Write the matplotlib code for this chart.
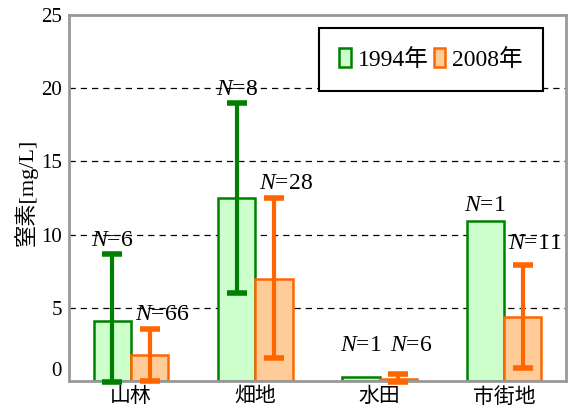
import numpy as np
import matplotlib
matplotlib.use("Agg")
import matplotlib.pyplot as plt

plt.rcParams['font.family'] = ['Liberation Serif', 'Noto Sans CJK JP']
plt.rcParams['font.size'] = 15
plt.rcParams['mathtext.fontset'] = 'custom'
plt.rcParams['mathtext.it'] = 'Liberation Serif:italic'
plt.rcParams['mathtext.rm'] = 'Liberation Serif'

# nitrogen by land use
categories = ['山林', '畑地', '水田', '市街地']
years = ['1994年', '2008年']
mean_1994 = [4.1, 12.5, 0.3, 10.9]
mean_2008 = [1.8, 7.0, 0.15, 4.4]
lo_1994 = [-0.1, 6.0, None, None]
hi_1994 = [8.65, 19.0, None, None]
lo_2008 = [0.0, 1.6, -0.1, 0.9]
hi_2008 = [3.55, 12.5, 0.5, 7.9]
n_1994 = [6, 8, 1, 1]
n_2008 = [66, 28, 6, 11]
# heights where the N= labels sit
ny_1994 = [8.9, 19.2, 1.7, 11.3]
ny_2008 = [3.8, 12.8, 1.7, 8.7]

edge = ['#008000', '#ff6600']
fill = ['#ccffcc', '#ffcc99']

fig = plt.figure(figsize=(5.7, 4.16), dpi=100)
ax = fig.add_axes([69/570, 1-381/416, 497/570, 366/416])

x = np.arange(len(categories))
w = 0.3
series = [(mean_1994, lo_1994, hi_1994, n_1994, ny_1994, -w/2, 0.0),
          (mean_2008, lo_2008, hi_2008, n_2008, ny_2008, w/2, 0.1)]
for k, (m, lo, hi, n, ny, off, toff) in enumerate(series):
    ax.bar(x + off, m, w, color=fill[k], edgecolor=edge[k], linewidth=1.8,
           label=years[k], zorder=2)
    for i in range(len(categories)):
        if lo[i] is not None:
            ax.errorbar(x[i] + off, m[i], yerr=[[m[i] - lo[i]], [hi[i] - m[i]]],
                        fmt='none', ecolor=edge[k], elinewidth=3, capsize=7,
                        capthick=4, zorder=3, clip_on=False)
        ax.text(x[i] + off + toff, ny[i], '$N$=%d' % n[i], ha='center',
                va='bottom', fontsize=17, family='Liberation Serif')

ax.set_xlim(-0.5, 3.5)
ax.set_ylim(0, 25)
ax.set_yticks([0, 5, 10, 15, 20, 25])
ax.set_xticks(x)
ax.set_xticklabels(categories, fontsize=15)
ax.tick_params(length=0, pad=5)
ax.get_yticklabels()[0].set_verticalalignment('bottom')
for yv in [5, 10, 15, 20]:
    ax.axhline(yv, color='black', linestyle=(0, (5, 4)), linewidth=0.9, zorder=1)
for s in ax.spines.values():
    s.set_color('#999999')
    s.set_linewidth(2)
ax.set_ylabel('窒素[mg/L]', fontsize=16)
ax.yaxis.set_label_coords(-0.062, 0.516)

leg = ax.legend(loc='upper left', bbox_to_anchor=(0.503, 0.964), ncol=2,
                fancybox=False, edgecolor='black', framealpha=1,
                handlelength=0.5, handleheight=0.85, handletextpad=0.3,
                columnspacing=0.2, borderpad=0.85, borderaxespad=0,
                fontsize=17)
leg.get_frame().set_linewidth(1.5)

fig.savefig('out.png', dpi=100)
